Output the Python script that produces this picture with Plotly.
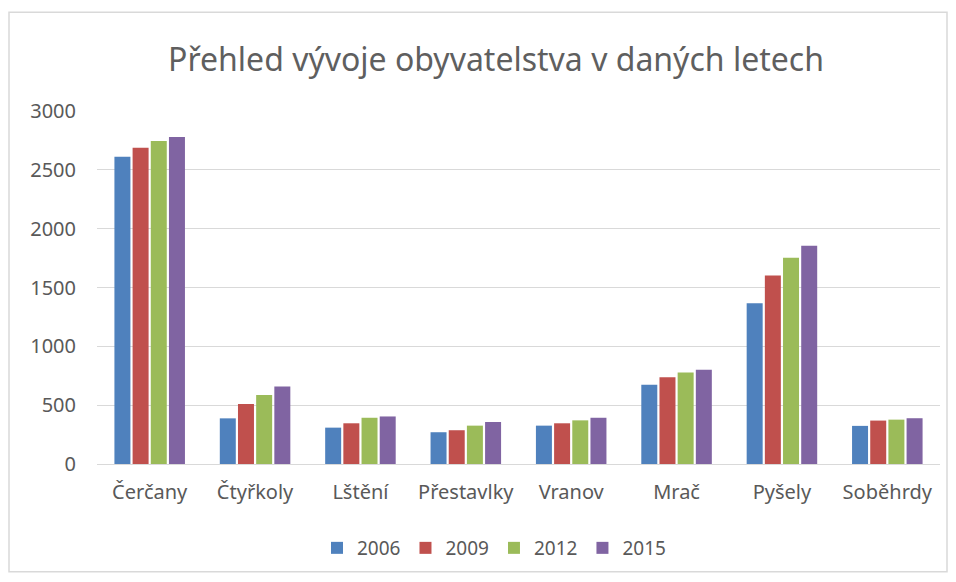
import plotly.graph_objects as go

categories = ["Čerčany", "Čtyřkoly", "Lštění", "Přestavlky", "Vranov", "Mrač", "Pyšely", "Soběhrdy"]
years = ["2006", "2009", "2012", "2015"]
v2006 = [2612, 388, 309, 270, 326, 673, 1366, 324]
v2009 = [2688, 509, 346, 287, 346, 738, 1603, 369]
v2012 = [2745, 586, 393, 326, 371, 777, 1753, 377]
v2015 = [2779, 659, 404, 357, 393, 800, 1855, 389]
colors = ["#4F81BD", "#C0504D", "#9BBB59", "#8064A2"]

series = [v2006, v2009, v2012, v2015]
font_family = "Noto Sans, Open Sans, sans-serif"

W, H = 940, 566
L, T, B, R = 89, 103, 109, 8
pw, ph = W - L - R, H - T - B

fig = go.Figure()
for name, vals, col in zip(years, series, colors):
    fig.add_trace(go.Bar(x=categories, y=vals, name=name, marker=dict(color=col, line=dict(width=0))))

fig.update_layout(
    width=W, height=H,
    paper_bgcolor="white", plot_bgcolor="white",
    margin=dict(l=L, r=R, t=T, b=B),
    barmode="group", bargap=0.31, bargroupgap=0.12,
    title=dict(text="Přehled vývoje obyvatelstva v daných letech", x=(488 - L) / pw, xanchor="center",
               xref="paper", y=1 - 52 / H, yanchor="middle",
               font=dict(family=font_family, size=32, color="#5F5F5F")),
    font=dict(family=font_family, color="#595959", size=20),
    legend=dict(orientation="h", x=(486 - L) / pw, xanchor="center", y=(H - B - 540) / ph, yanchor="middle",
                font=dict(size=19, color="#595959"), itemwidth=30, traceorder="normal"),
    showlegend=True,
)
fig.update_yaxes(range=[0, 3000], dtick=500, showgrid=True, gridcolor="#D9D9D9", gridwidth=1,
                 zeroline=False, showline=False, ticks="", ticklabelstandoff=20,
                 tickfont=dict(size=20, color="#595959"))
fig.update_xaxes(showline=True, linecolor="#D9D9D9", linewidth=1, ticks="",
                 tickfont=dict(size=20, color="#595959"), ticklabelstandoff=10)

fig.add_shape(type="rect", xref="paper", yref="paper",
              x0=(1 - L) / pw, x1=(W - 1 - L) / pw,
              y0=(H - B - (H - 1)) / ph, y1=(H - B - 4) / ph,
              line=dict(color="#D9D9D9", width=1.5), fillcolor="rgba(0,0,0,0)", layer="below")

fig.write_html("out.html")
